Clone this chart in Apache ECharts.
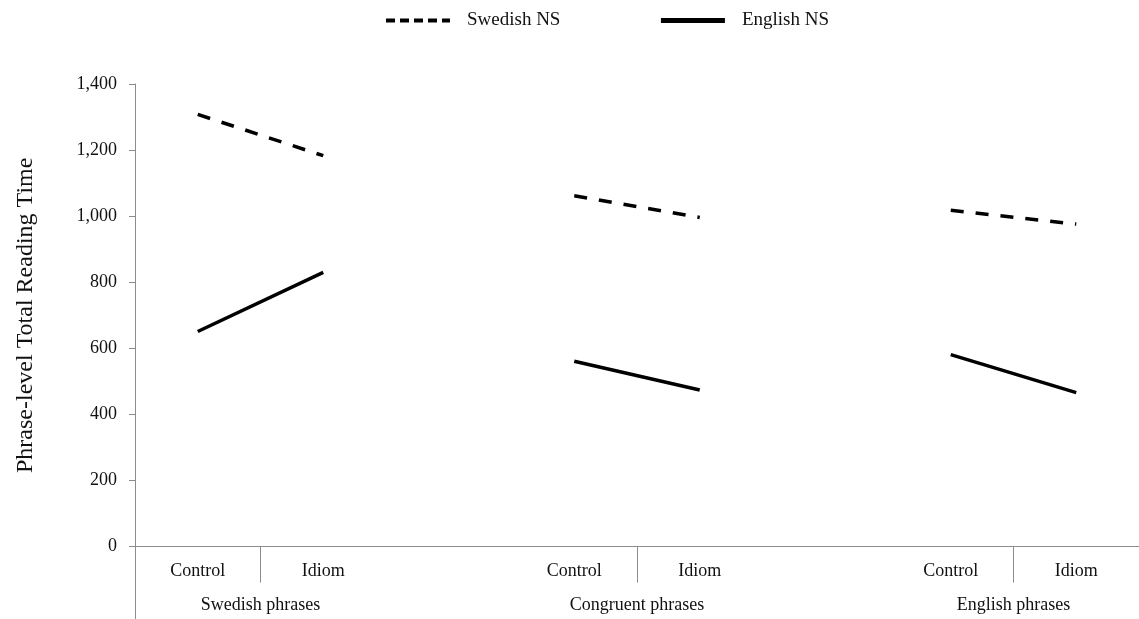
<!DOCTYPE html>
<html>
<head>
<meta charset="utf-8">
<script src="https://cdn.jsdelivr.net/npm/echarts@6/dist/echarts.min.js"></script>
<style>html,body{margin:0;padding:0;background:#fff}#c{width:1139px;height:619px}</style>
</head>
<body>
<div id="c"></div>
<script>
// Categories (blank slots separate the three phrase groups)
const categories = ['Control', 'Idiom', '', 'Control', 'Idiom', '', 'Control', 'Idiom'];
const groupNames = ['Swedish phrases', 'Congruent phrases', 'English phrases'];
const groupCenters = [1, 4, 7];          // in category-slot units
const yTicks = [0, 200, 400, 600, 800, 1000, 1200, 1400];
const swedishNS = [1308, 1183, null, 1062, 996, null, 1018, 976];
const englishNS = [651, 830, null, 561, 474, null, 581, 466];

const FONT = '"Liberation Serif", "Times New Roman", serif';
const AXIS = '#8c8c8c';
const TXT = '#111';

const chart = echarts.init(document.getElementById('c'), null, {renderer: 'canvas'});
chart.setOption({
  backgroundColor: '#fff',
  animation: false,
  textStyle: {fontFamily: FONT},
  legend: {
    top: 6,
    left: 379,
    itemWidth: 64,
    itemHeight: 10,
    itemGap: 98,
    itemStyle: {opacity: 0},
    textStyle: {fontFamily: FONT, fontSize: 19, color: TXT, padding: [0, 0, 0, 12]},
    data: [
      {name: 'Swedish NS', lineStyle: {color: '#000', width: 4, type: [9, 5]}, itemStyle: {opacity: 0}},
      {name: 'English NS', lineStyle: {color: '#000', width: 5, type: 'solid'}, itemStyle: {opacity: 0}}
    ]
  },
  grid: {left: 135, top: 84, width: 1012, height: 462.6, containLabel: false},
  xAxis: [
    {
      type: 'category',
      data: categories,
      boundaryGap: true,
      axisLine: {lineStyle: {color: AXIS, width: 1}},
      axisTick: {show: false},
      axisLabel: {fontFamily: FONT, fontSize: 18, color: TXT, margin: 16, interval: 0},
      splitLine: {show: false}
    },
    {
      type: 'value',
      min: 0, max: 8,
      position: 'bottom',
      axisLine: {show: false},
      axisTick: {show: true, customValues: groupCenters, length: 36, lineStyle: {color: AXIS}},
      axisLabel: {
        show: true,
        customValues: groupCenters,
        fontFamily: FONT, fontSize: 18, color: TXT, margin: 50,
        formatter: function (v) { const i = groupCenters.indexOf(v); return i >= 0 ? groupNames[i] : ''; }
      },
      splitLine: {show: false}
    },
    {
      type: 'value',
      min: 0, max: 8,
      position: 'bottom',
      axisLine: {show: false},
      axisTick: {show: true, customValues: [0], length: 73, lineStyle: {color: AXIS}},
      axisLabel: {show: false},
      splitLine: {show: false}
    }
  ],
  yAxis: {
    type: 'value',
    min: 0, max: 1400, interval: 200,
    name: 'Phrase-level Total Reading Time',
    nameLocation: 'middle',
    nameRotate: 90,
    nameGap: 97,
    nameTextStyle: {fontFamily: FONT, fontSize: 24, color: TXT},
    axisLine: {show: true, lineStyle: {color: AXIS, width: 1}},
    axisTick: {show: true, length: 6, lineStyle: {color: AXIS}},
    axisLabel: {
      fontFamily: FONT, fontSize: 18, color: TXT, margin: 18,
      formatter: function (v) { return yTicks.indexOf(v) >= 0 ? v.toLocaleString('en-US') : ''; }
    },
    splitLine: {show: false}
  },
  series: [
    {
      name: 'Swedish NS',
      type: 'line',
      xAxisIndex: 0,
      data: swedishNS,
      symbol: 'none',
      connectNulls: false,
      color: '#000',
      lineStyle: {color: '#000', width: 3.5, type: [13, 12]}
    },
    {
      name: 'English NS',
      type: 'line',
      xAxisIndex: 0,
      data: englishNS,
      symbol: 'none',
      connectNulls: false,
      color: '#000',
      lineStyle: {color: '#000', width: 3.5, type: 'solid'}
    }
  ]
});
</script>
</body>
</html>
